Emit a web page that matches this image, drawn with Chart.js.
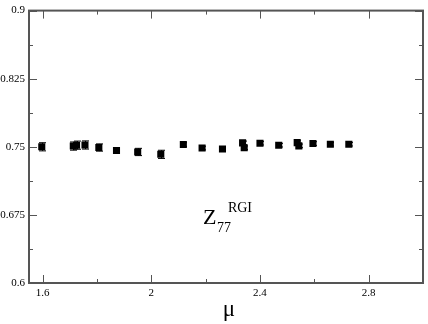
<!DOCTYPE html>
<html>
<head>
<meta charset="utf-8">
<script src="https://cdn.jsdelivr.net/npm/chart.js@4/dist/chart.umd.min.js"></script>
<style>
  html, body { margin: 0; padding: 0; background: #fff; }
  #wrap { width: 428px; height: 324px; }
</style>
</head>
<body>
<div id="wrap"><canvas id="chart"></canvas></div>
<script>
// ---------------- DATA ----------------
const mu = [1.597, 1.713, 1.725, 1.756, 1.807, 1.872, 1.950, 2.035, 2.118, 2.187,
  2.262, 2.336, 2.342, 2.400, 2.469, 2.537, 2.543, 2.595, 2.659, 2.727];
const zValues = [0.7500, 0.7508, 0.7518, 0.7520, 0.7492, 0.7460, 0.7443, 0.7417, 0.7525, 0.7486,
  0.7475, 0.7543, 0.7489, 0.7540, 0.7518, 0.7546, 0.7510, 0.7536, 0.7529, 0.7529];
const zErrors = [0.0045, 0.0045, 0.0045, 0.0045, 0.0040, 0.0030, 0.0040, 0.0045, 0.0020, 0.0020,
  0.0020, 0.0020, 0.0020, 0.0020, 0.0020, 0.0020, 0.0020, 0.0020, 0.0020, 0.0020];

const xTicks = [1.6, 2, 2.4, 2.8];
const xMinorTicks = [1.8, 2.2, 2.6];
const yTicks = [0.6, 0.675, 0.75, 0.825, 0.9];
const yMinorTicks = [0.6375, 0.7125, 0.7875, 0.8625];

const FRAME = '#555';
const SERIF = '"Liberation Serif", "DejaVu Serif", serif';

// ---------------- PLUGINS ----------------
const errorBars = {
  id: 'errorBars',
  afterDatasetsDraw(chart) {
    const { ctx, scales: { x, y } } = chart;
    ctx.save();
    ctx.strokeStyle = '#000';
    ctx.lineWidth = 1;
    mu.forEach((m, i) => {
      const px = Math.round(x.getPixelForValue(m)) + 0.5;
      const top = y.getPixelForValue(zValues[i] + zErrors[i]);
      const bot = y.getPixelForValue(zValues[i] - zErrors[i]);
      ctx.beginPath();
      ctx.moveTo(px, top); ctx.lineTo(px, bot);
      ctx.moveTo(px - 3.5, top); ctx.lineTo(px + 3.5, top);
      ctx.moveTo(px - 3.5, bot); ctx.lineTo(px + 3.5, bot);
      ctx.stroke();
    });
    ctx.restore();
  },
};

const frameTicks = {
  id: 'frameTicks',
  afterDraw(chart) {
    const { ctx, chartArea: a, scales: { x, y } } = chart;
    ctx.save();
    ctx.strokeStyle = FRAME;
    ctx.lineWidth = 2;
    ctx.strokeRect(a.left, a.top, a.right - a.left, a.bottom - a.top);
    ctx.lineWidth = 1;
    const vTick = (v, len) => {
      const px = Math.round(x.getPixelForValue(v)) + 0.5;
      ctx.moveTo(px, a.bottom); ctx.lineTo(px, a.bottom - len);
      ctx.moveTo(px, a.top); ctx.lineTo(px, a.top + len);
    };
    const hTick = (v, len) => {
      const py = Math.round(y.getPixelForValue(v)) + 0.5;
      ctx.moveTo(a.left, py); ctx.lineTo(a.left + len, py);
      ctx.moveTo(a.right, py); ctx.lineTo(a.right - len, py);
    };
    ctx.beginPath();
    xTicks.forEach((v) => vTick(v, 8));
    xMinorTicks.forEach((v) => vTick(v, 4));
    yTicks.forEach((v) => hTick(v, 8));
    yMinorTicks.forEach((v) => hTick(v, 4));
    ctx.stroke();

    // Z_77^RGI label
    const lx = x.getPixelForValue(2.19);
    const ly = y.getPixelForValue(0.665);
    ctx.fillStyle = '#000';
    ctx.textBaseline = 'alphabetic';
    ctx.font = `22px ${SERIF}`;
    ctx.fillText('Z', lx, ly);
    ctx.font = `14px ${SERIF}`;
    ctx.fillText('77', lx + 14, ly + 8);
    ctx.fillText('RGI', lx + 25, ly - 12);

    // axis title
    ctx.font = `23px ${SERIF}`;
    ctx.textAlign = 'center';
    ctx.fillText('μ', (a.left + a.right) / 2 + 3, 316);
    ctx.restore();
  },
};

// ---------------- CHART ----------------
new Chart(document.getElementById('chart'), {
  type: 'scatter',
  data: {
    datasets: [{
      data: mu.map((m, i) => ({ x: m, y: zValues[i] })),
      pointStyle: 'rect',
      pointRadius: 5,
      pointHoverRadius: 5,
      backgroundColor: '#000',
      borderColor: '#000',
      borderWidth: 0,
    }],
  },
  options: {
    responsive: true,
    maintainAspectRatio: false,
    animation: false,
    layout: { padding: { top: 5, right: 1, left: 0, bottom: 0 } },
    plugins: { legend: { display: false }, tooltip: { enabled: false } },
    scales: {
      x: {
        type: 'linear',
        min: 1.55,
        max: 3.0,
        afterBuildTicks: (s) => { s.ticks = xTicks.map((v) => ({ value: v })); },
        afterFit: (s) => { s.height = 41; },
        grid: { display: false, drawTicks: false },
        border: { display: false },
        ticks: {
          padding: 4,
          color: '#000',
          font: { family: SERIF, size: 11 },
          callback: (v) => String(v),
        },
      },
      y: {
        min: 0.6,
        max: 0.9,
        afterBuildTicks: (s) => { s.ticks = yTicks.map((v) => ({ value: v })); },
        afterFit: (s) => { s.width = 29; },
        grid: { display: false, drawTicks: false },
        border: { display: false },
        ticks: {
          padding: 4,
          color: '#000',
          font: { family: SERIF, size: 11 },
          callback: (v) => String(Number(v.toFixed(3))),
        },
      },
    },
  },
  plugins: [errorBars, frameTicks],
});
</script>
</body>
</html>
